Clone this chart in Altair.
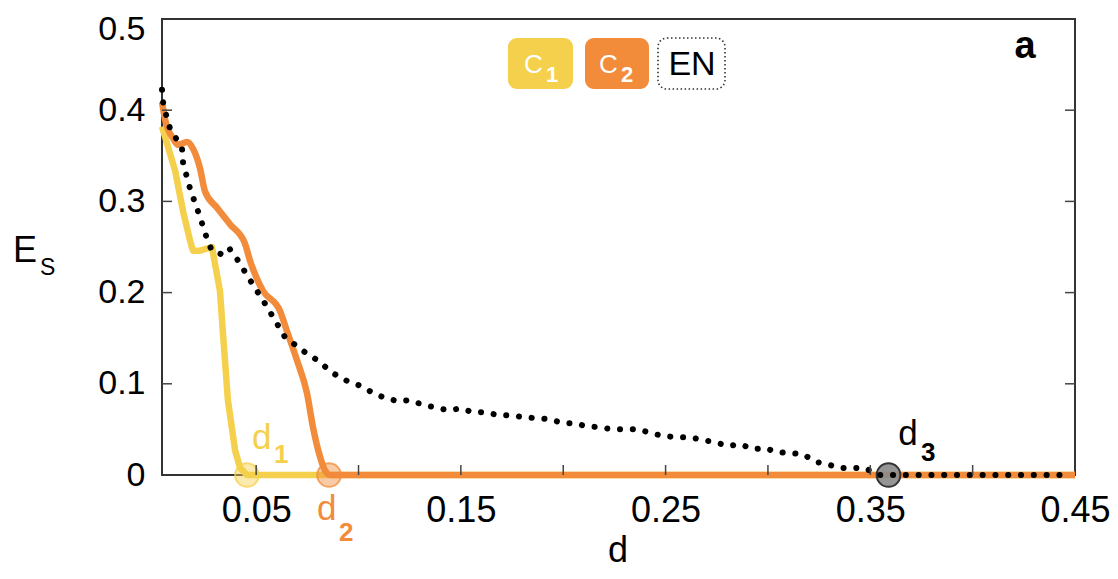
import altair as alt
import pandas as pd

# ---------------- data ----------------
c1_d = [0.004, 0.0105, 0.0143, 0.0177, 0.0191, 0.0226, 0.0284, 0.0323, 0.0338, 0.0362, 0.0397, 0.0421, 0.0455, 0.45]
c1_e = [0.382, 0.333, 0.289, 0.257, 0.246, 0.246, 0.250, 0.202, 0.155, 0.082, 0.027, 0.008, 0.0, 0.0]

c2_d = [0.004, 0.0055, 0.0094, 0.0118, 0.0162, 0.0191, 0.0226, 0.025, 0.0309, 0.0372, 0.0445, 0.047,
        0.0504, 0.0533, 0.0616, 0.065, 0.0699, 0.0748, 0.0778, 0.0812, 0.0836, 0.0861, 0.45]
c2_e = [0.409, 0.390, 0.369, 0.362, 0.365, 0.358, 0.336, 0.311, 0.293, 0.275, 0.254, 0.235,
        0.215, 0.202, 0.180, 0.158, 0.126, 0.090, 0.052, 0.020, 0.005, 0.0, 0.0]

en_d = [0.004, 0.0045, 0.006, 0.0079, 0.0104, 0.0138, 0.0143, 0.0177, 0.0221, 0.026, 0.0284, 0.0333,
        0.0367, 0.0406, 0.0475, 0.0543, 0.0607, 0.0641, 0.0695, 0.0748, 0.0802, 0.0851, 0.0900,
        0.0949, 0.1007, 0.1066, 0.1124, 0.1188, 0.1247, 0.131, 0.1374, 0.1437, 0.1501, 0.1559,
        0.1623, 0.1681, 0.1745, 0.1808, 0.1872, 0.1935, 0.1999, 0.2058, 0.2111, 0.2175, 0.2238,
        0.2302, 0.2365, 0.2429, 0.2492, 0.2556, 0.2619, 0.2683, 0.2741, 0.2805, 0.2864, 0.2927,
        0.2986, 0.3044, 0.3108, 0.3171, 0.3235, 0.3289, 0.3352, 0.3416, 0.3474, 0.3538, 0.445]
en_e = [0.4225, 0.409, 0.395, 0.380, 0.371, 0.357, 0.342, 0.314, 0.286, 0.259, 0.2456, 0.242,
        0.249, 0.237, 0.212, 0.188, 0.164, 0.151, 0.142, 0.133, 0.1255, 0.116, 0.108,
        0.1026, 0.098, 0.0906, 0.085, 0.081, 0.082, 0.0775, 0.074, 0.071, 0.073, 0.0688,
        0.0688, 0.0655, 0.0655, 0.0633, 0.0622, 0.0611, 0.0568, 0.0568, 0.0535, 0.0524, 0.0502,
        0.0502, 0.0502, 0.0459, 0.0426, 0.0415, 0.0415, 0.0382, 0.036, 0.0317, 0.0338, 0.0284,
        0.0295, 0.0251, 0.024, 0.0229, 0.0142, 0.012, 0.0076, 0.0076, 0.0076, 0.0, 0.0]

crit_names = ["d1", "d2", "d3"]
crit_d = [0.0455, 0.0856, 0.3589]

x_tick_vals = [0.05, 0.10, 0.15, 0.20, 0.25, 0.30, 0.35, 0.40, 0.45]
x_minor = [0.05, 0.10, 0.15, 0.20, 0.25, 0.30, 0.35, 0.40]
y_tick_vals = [0.0, 0.1, 0.2, 0.3, 0.4, 0.5]
y_minor = [0.1, 0.2, 0.3, 0.4]

YEL = "#f4d04c"
ORA = "#f28b3a"
FONT = "Liberation Sans"
PAD_TOP = 11
W, H = 913, 456

xs = alt.Scale(domain=[0.004, 0.45], nice=False, zero=False)
ys = alt.Scale(domain=[0, 0.5], nice=False, zero=False)

x_axis = alt.Axis(values=x_tick_vals, title=None, ticks=False, domain=False, grid=False,
                  labelExpr="indexof(['0.05','0.15','0.25','0.35','0.45'], format(datum.value,'.2f')) >= 0 ? format(datum.value,'.2f') : ''",
                  labelFont=FONT, labelFontSize=36, labelColor="black", labelPadding=18,
                  labelFlush=False, labelOverlap=False)
y_axis = alt.Axis(values=y_tick_vals, title=None, ticks=False, domain=False, grid=False,
                  labelExpr="datum.value == 0 ? '0' : format(datum.value,'.1f')",
                  labelFont=FONT, labelFontSize=34, labelColor="black", labelPadding=17,
                  labelOffset={"condition": {"test": "datum.value >= 0.5", "value": 10}, "value": 0},
                  labelFlush=False, labelOverlap=False)

df1 = pd.DataFrame({"d": c1_d, "E": c1_e})
df2 = pd.DataFrame({"d": c2_d, "E": c2_e})
dfe = pd.DataFrame({"d": en_d, "E": en_e})
dfc = pd.DataFrame({"name": crit_names, "d": crit_d, "E": [0.0, 0.0, 0.0]})

line1 = alt.Chart(df1).mark_line(color=YEL, strokeWidth=6.5, strokeJoin="round").encode(
    x=alt.X("d:Q", scale=xs, axis=x_axis), y=alt.Y("E:Q", scale=ys, axis=y_axis), order="d:Q")
line2 = alt.Chart(df2).mark_line(color=ORA, strokeWidth=6.5, strokeJoin="round",
                                 interpolate="monotone").encode(
    x=alt.X("d:Q", scale=xs), y=alt.Y("E:Q", scale=ys), order="d:Q")
lineE = alt.Chart(dfe).mark_line(color="black", strokeWidth=6, strokeCap="round",
                                 strokeDash=[0.1, 12.7]).encode(
    x=alt.X("d:Q", scale=xs), y=alt.Y("E:Q", scale=ys), order="d:Q")

def crit_circle(name, fill, fop, stroke, sop):
    return alt.Chart(dfc[dfc["name"] == name]).mark_point(
        shape="circle", size=560, filled=True, fill=fill, fillOpacity=fop,
        stroke=stroke, strokeOpacity=sop, strokeWidth=2).encode(
        x=alt.X("d:Q", scale=xs), y=alt.Y("E:Q", scale=ys))

circ1 = crit_circle("d1", YEL, 0.45, YEL, 0.75)
circ2 = crit_circle("d2", ORA, 0.45, ORA, 0.75)
circ3 = crit_circle("d3", "#8a8a8a", 0.9, "#333333", 1.0)

# inward ticks
tb = alt.Chart(pd.DataFrame({"v": x_minor})).mark_rule(color="#444", strokeWidth=1.5).encode(
    x=alt.X("v:Q", scale=xs), y=alt.value(H), y2=alt.value(H - 10))
tl = alt.Chart(pd.DataFrame({"v": y_minor})).mark_rule(color="#444", strokeWidth=1.5).encode(
    y=alt.Y("v:Q", scale=ys), x=alt.value(0), x2=alt.value(10))
tr = alt.Chart(pd.DataFrame({"v": y_minor})).mark_rule(color="#444", strokeWidth=1.5).encode(
    y=alt.Y("v:Q", scale=ys), x=alt.value(W - 10), x2=alt.value(W))

# d labels (data coordinates)
lab_main = pd.DataFrame({"t": ["d", "d", "d"], "d": [0.048, 0.0797, 0.3636],
                         "E": [0.029, -0.049, 0.033], "c": [YEL, ORA, "black"]})
lab_sub = pd.DataFrame({"t": ["1", "2", "3"], "d": [0.0587, 0.0905, 0.3748],
                        "E": [0.013, -0.072, 0.015], "c": [YEL, ORA, "black"]})
dl = alt.Chart(lab_main).mark_text(font=FONT, fontSize=35, align="left", baseline="alphabetic").encode(
    x=alt.X("d:Q", scale=xs), y=alt.Y("E:Q", scale=ys), text="t:N", color=alt.Color("c:N", scale=None))
ds = alt.Chart(lab_sub).mark_text(font=FONT, fontSize=26, fontWeight="bold", align="left",
                                  baseline="alphabetic").encode(
    x=alt.X("d:Q", scale=xs), y=alt.Y("E:Q", scale=ys), text="t:N", color=alt.Color("c:N", scale=None))

one = pd.DataFrame({"k": [0]})
OY = 8 + PAD_TOP  # page y of plot top

def txt(s, x, y_img, size, color="black", weight="normal", align="left"):
    return alt.Chart(one).mark_text(text=s, font=FONT, fontSize=size, fontWeight=weight, color=color,
                                    align=align, baseline="alphabetic").encode(
        x=alt.value(x), y=alt.value(y_img - OY))

def box(x0, x1, fill, stroke=None, dash=None):
    kw = dict(cornerRadius=9, fill=fill)
    if stroke:
        kw.update(stroke=stroke, strokeWidth=1.6)
    if dash:
        kw.update(strokeDash=dash)
    return alt.Chart(one).mark_rect(**kw).encode(
        x=alt.value(x0), x2=alt.value(x1), y=alt.value(38 - OY), y2=alt.value(89 - OY))

legend = [
    box(346, 411, YEL), box(423, 487, ORA), box(496, 563, "white", "#333", [1.5, 2.5]),
    txt("C", 362, 73, 26, "white"), txt("1", 384, 82, 22, "white", "bold"),
    txt("C", 437, 73, 26, "white"), txt("2", 459, 82, 22, "white", "bold"),
    txt("EN", 530, 75, 34, "black", align="center"),
    txt("a", 863, 58, 38, "black", "bold", align="center"),
    txt("E", -149, 262, 36), txt("S", -122, 275, 23),
    txt("d", 456, 562, 36, align="center"),
]

chart = alt.layer(line1, line2, circ1, circ2, circ3, lineE, tb, tl, tr, dl, ds, *legend).properties(
    width=W, height=H,
    autosize=alt.AutoSizeParams(type="none"),
    padding={"left": 154, "top": PAD_TOP, "right": 35, "bottom": 96},
).configure_view(stroke="#333333", strokeWidth=2)

chart.save("out.html", embed_options={"renderer": "svg", "actions": False})
